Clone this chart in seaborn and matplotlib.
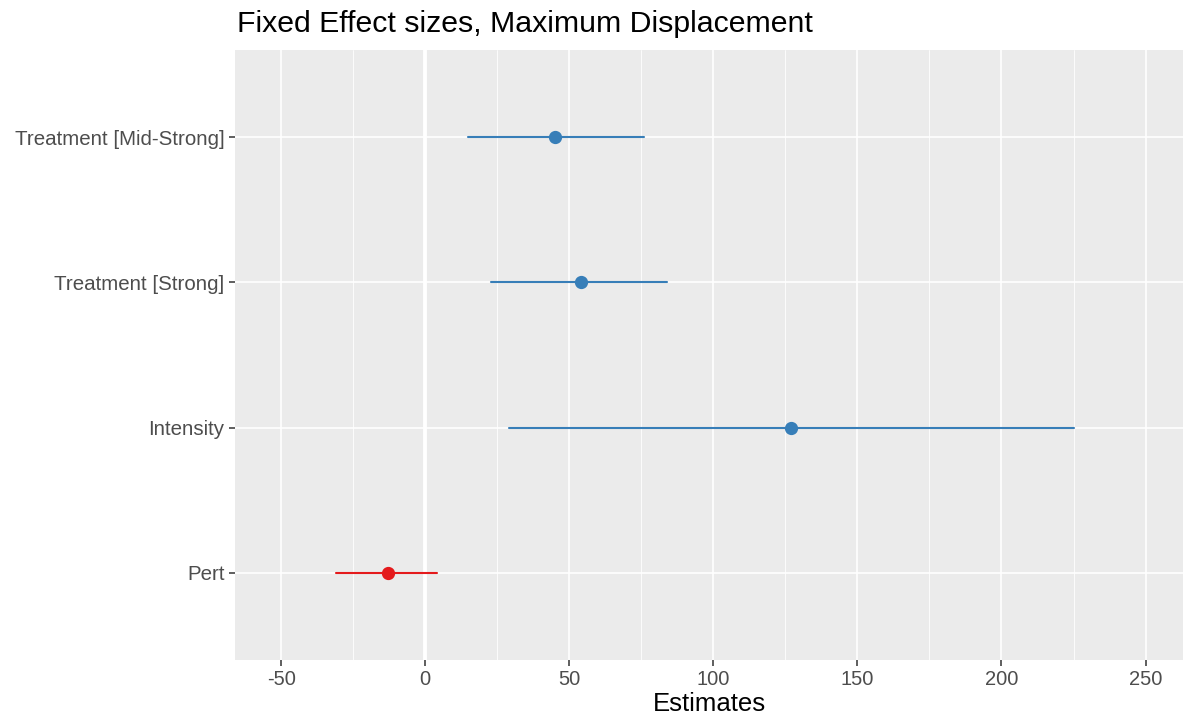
import numpy as np
import pandas as pd
import matplotlib
matplotlib.use("Agg")
import matplotlib.pyplot as plt
import seaborn as sns

terms = ["Treatment [Mid-Strong]", "Treatment [Strong]", "Intensity", "Pert"]
estimates = [45.0, 54.0, 127.0, -13.0]
ci_low = [15.0, 23.0, 29.0, -31.0]
ci_high = [76.0, 84.0, 225.0, 4.0]
x_ticks = [-50, 0, 50, 100, 150, 200, 250]

rows = []
for t, e, lo, hi in zip(terms, estimates, ci_low, ci_high):
    sign = "pos" if e > 0 else "neg"
    for v in (lo, e, hi):
        rows.append({"term": t, "value": v, "sign": sign})
df = pd.DataFrame(rows)

sns.set_theme(style="darkgrid")
plt.rcParams["font.family"] = ["Liberation Sans", "DejaVu Sans"]
plt.rcParams["axes.unicode_minus"] = False

fig = plt.figure(figsize=(11.86, 7.26), dpi=100)
ax = fig.add_axes([235 / 1186, 66 / 726, (1183 - 235) / 1186, (660 - 50) / 726])
ax.set_facecolor("#EBEBEB")
fig.patch.set_facecolor("white")

ax.axvline(0, color="white", lw=2.8, zorder=0.5)

sns.pointplot(data=df, x="value", y="term", hue="sign", order=terms,
              palette={"pos": "#377EB8", "neg": "#E41A1C"},
              estimator=np.median, errorbar=("pi", 100),
              linestyle="none", markers="o", markersize=7.5,
              err_kws={"linewidth": 1.5}, legend=False, ax=ax)

ax.set_xlim(-66, 263)
ax.set_ylim(len(terms) - 0.4, -0.6)
ax.set_xticks(x_ticks)
ax.set_xticks([-25, 25, 75, 125, 175, 225], minor=True)
ax.grid(which="major", color="white", lw=1.2)
ax.grid(which="minor", axis="x", color="white", lw=0.6)
ax.set_axisbelow(True)
for s in ax.spines.values():
    s.set_visible(False)
ax.tick_params(axis="both", which="major", length=4.5, width=1.1, color="#333333",
               labelcolor="#4D4D4D", pad=3, bottom=True, left=True)
ax.tick_params(axis="x", labelsize=14.5)
ax.tick_params(axis="y", labelsize=14.8)
ax.tick_params(axis="both", which="minor", length=0)
ax.set_ylabel("")
ax.set_xlabel("Estimates", fontsize=18.5, color="black", labelpad=2)
ax.set_title("Fixed Effect sizes, Maximum Displacement", fontsize=21.8,
             loc="left", x=0.002, pad=13, color="black")

fig.savefig("out.png", dpi=100)
